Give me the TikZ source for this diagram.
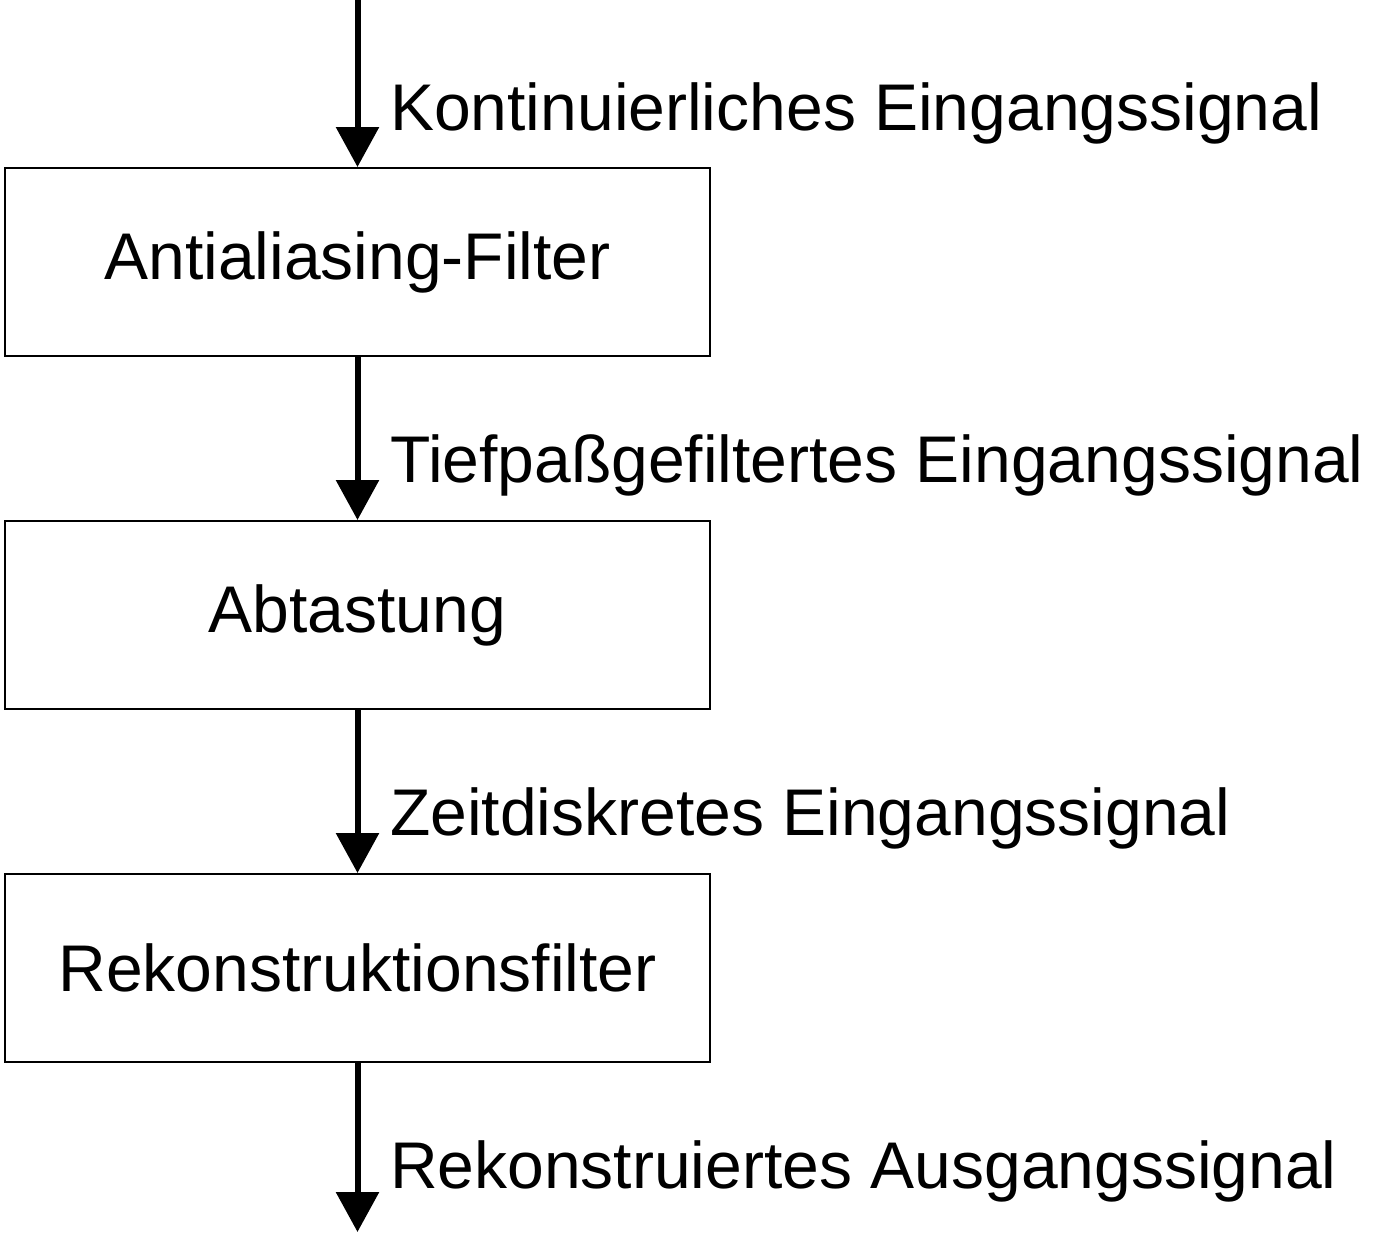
\documentclass[tikz,border=0pt]{standalone}
\usepackage{fontspec}
\setmainfont{Liberation Sans}
\usepackage{tikz}
\usetikzlibrary{arrows.meta, positioning}

\begin{document}
\begin{tikzpicture}[x=1pt, y=-1pt,
        block/.style={draw, line width=2pt, minimum width=705pt, minimum height=188pt, inner sep=0pt, font=\fontsize{66}{70}\selectfont},
        flow/.style={line width=6pt, -{Triangle[width=42pt, length=40pt]}},
        sig/.style={anchor=base west, inner sep=0pt, font=\fontsize{66}{70}\selectfont}
    ]
        \useasboundingbox (0,0) rectangle (1376,1232);
        \node[block] (filter) at (357.5,262) {Antialiasing-Filter};
        \node[block] (sampling) at (357.5,615) {Abtastung};
        \node[block] (recon) at (357.5,968) {Rekonstruktionsfilter};
        \coordinate (in) at (357.5,0);
        \coordinate (out) at (357.5,1232);
        \draw[flow] (in) -- (filter.north);
        \draw[flow] (filter.south) -- (sampling.north);
        \draw[flow] (sampling.south) -- (recon.north);
        \draw[flow] (recon.south) -- (out);
        \node[sig] (s1) at (390,130) {Kontinuierliches Eingangssignal};
        \node[sig] (s2) at (390,482) {Tiefpaßgefiltertes Eingangssignal};
        \node[sig] (s3) at (390,835) {Zeitdiskretes Eingangssignal};
        \node[sig] (s4) at (390,1188) {Rekonstruiertes Ausgangssignal};
    \end{tikzpicture}
\end{document}
